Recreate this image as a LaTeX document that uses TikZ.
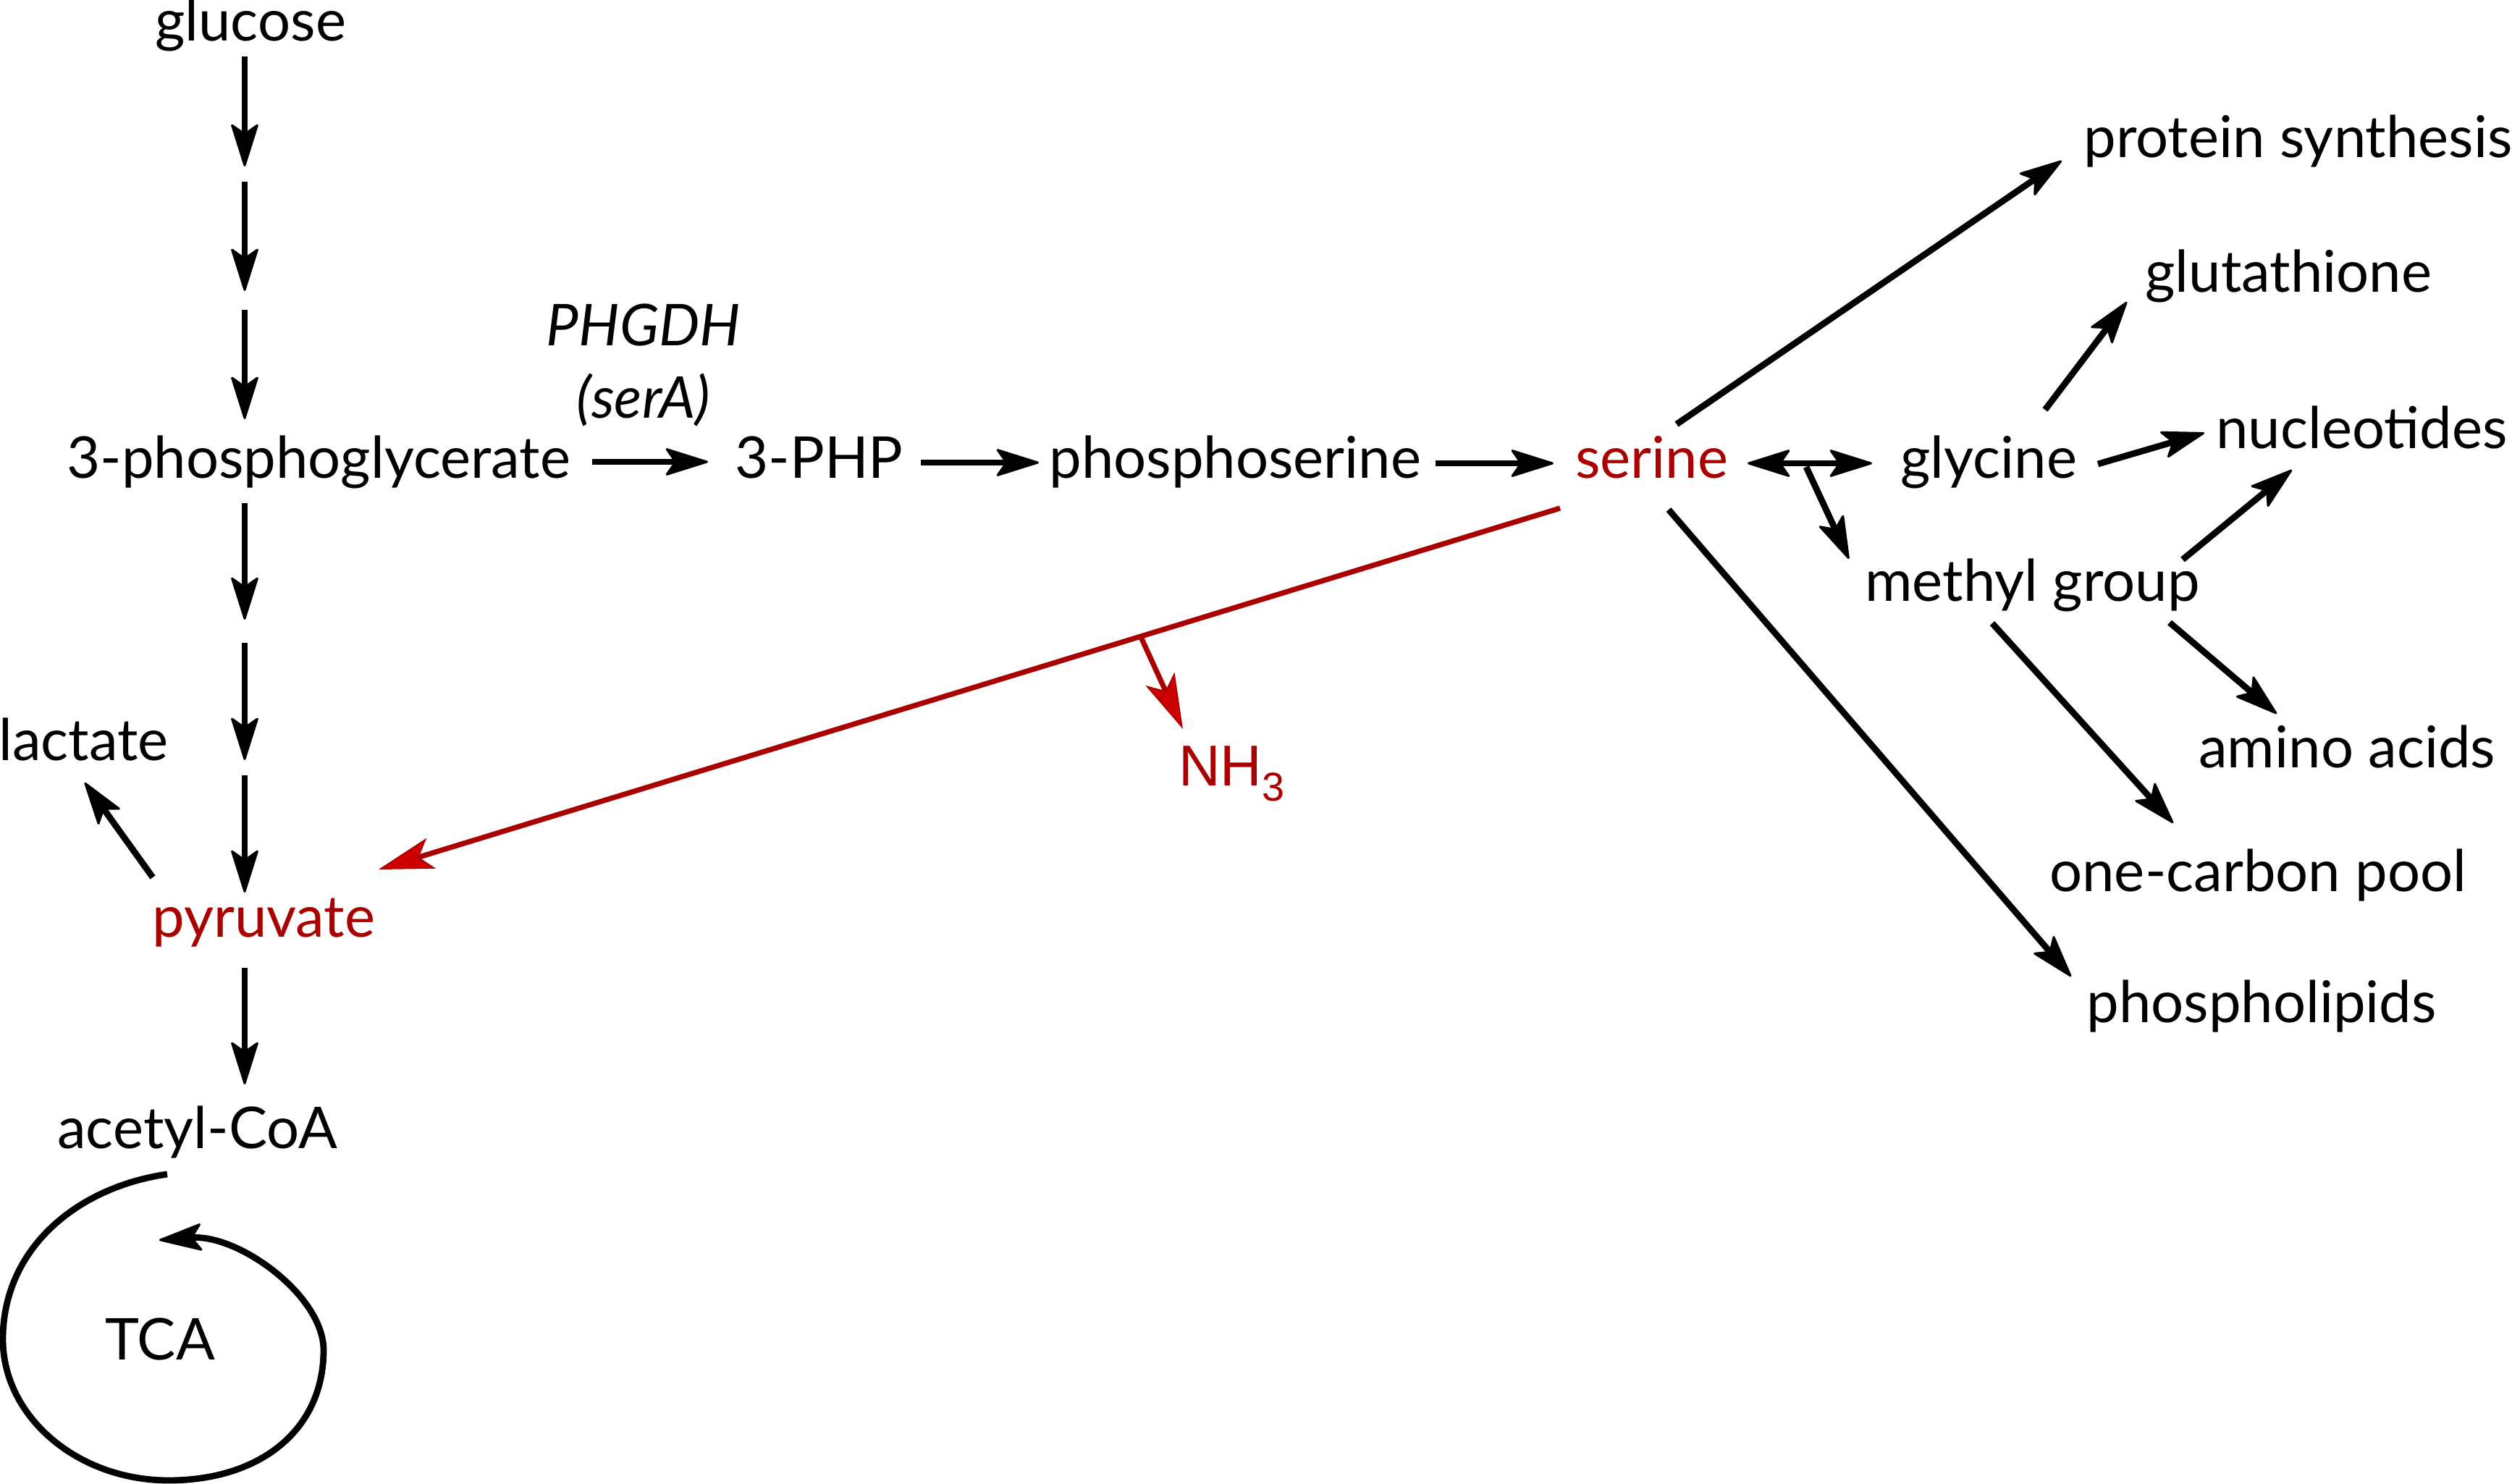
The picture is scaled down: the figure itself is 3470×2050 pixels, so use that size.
\documentclass[tikz,border=0pt]{standalone}
\usepackage{fontspec}
\setmainfont{Lato}
\newfontfamily\nhfont{Liberation Sans}
\usetikzlibrary{arrows.meta}
\definecolor{rtext}{HTML}{AA0000}
\definecolor{rfill}{HTML}{CC0000}
\begin{document}
\begin{tikzpicture}[x=0.5pt,y=-0.5pt,
  lbl/.style={anchor=base west, inner sep=0pt, font=\fontsize{39.8}{48}\selectfont},
  rlbl/.style={lbl, text=rtext},
  tip/.tip={Stealth[length=32pt,width=20pt,inset=7pt,line width=1.5pt,round]},
  arr/.style={line width=4.4pt, -tip},
  rarr/.style={draw=rtext, line width=3.6pt, -{Stealth[length=38pt,width=22pt,inset=9pt,line width=0.8pt,color=rtext,fill=rfill]}},
]
\useasboundingbox (0,0) rectangle (3470,2050);

% text nodes
\node[lbl] (glucose) at (214,57) {glucose};
\node[lbl] (pg) at (92,660) {3-phosphoglycerate};
\node[lbl, anchor=base] (phgdh) at (889,477) {\itshape PHGDH};
\node[lbl, anchor=base] (sera) at (889,577) {\itshape (serA)};
\node[lbl] (php) at (1015,660) {3-PHP};
\node[lbl] (pser) at (1449,660) {phosphoserine};
\node[rlbl] (serine) at (2176,660) {serine};
\node[lbl] (glycine) at (2625,660) {glycine};
\node[lbl] (protein) at (2878,217) {protein synthesis};
\node[lbl] (gsh) at (2963,403) {glutathione};
\node[lbl] (nuc) at (3061,619) {nucleotides};
\node[lbl] (methyl) at (2576,830) {methyl group};
\node[lbl] (amino) at (3037,1060) {amino acids};
\node[lbl] (onec) at (2831,1231) {one-carbon pool};
\node[lbl] (plip) at (2882,1412) {phospholipids};
\node[lbl] (lactate) at (-2,1050) {lactate};
\node[rlbl] (pyr) at (210,1294) {pyruvate};
\node[lbl] (acoa) at (79,1586) {acetyl-CoA};
\node[lbl] (tca) at (145,1878) {TCA};
\node[lbl, text=rtext, font=\nhfont\fontsize{39.8}{48}\selectfont] (nh3) at (1628,1085) {NH\textsubscript{3}};

% glucose -> 3PG (three steps)
\coordinate (g0) at (338,78);  \coordinate (g1) at (338,230);
\coordinate (g2) at (338,251); \coordinate (g3) at (338,402);
\coordinate (g4) at (338,428); \coordinate (g5) at (338,579);
\draw[arr] (g0) -- (g1);
\draw[arr] (g2) -- (g3);
\draw[arr] (g4) -- (g5);

% 3PG -> pyruvate (three steps)
\coordinate (p0) at (338,695);  \coordinate (p1) at (338,856);
\coordinate (p2) at (338,888);  \coordinate (p3) at (338,1050);
\coordinate (p4) at (338,1071); \coordinate (p5) at (338,1233);
\draw[arr] (p0) -- (p1);
\draw[arr] (p2) -- (p3);
\draw[arr] (p4) -- (p5);

% pyruvate -> acetyl-CoA
\coordinate (a0) at (338,1337); \coordinate (a1) at (338,1498);
\draw[arr] (a0) -- (a1);

% pyruvate -> lactate
\coordinate (l0) at (211,1212); \coordinate (l1) at (117,1081);
\draw[arr] (l0) -- (l1);

% main row
\coordinate (h0) at (818,638);  \coordinate (h1) at (978,638);
\coordinate (h2) at (1272,639); \coordinate (h3) at (1435,639);
\coordinate (h4) at (1983,640); \coordinate (h5) at (2146,640);
\draw[arr] (h0) -- (h1);
\draw[arr] (h2) -- (h3);
\draw[arr] (h4) -- (h5);

% serine <-> glycine, with branch to methyl group
\coordinate (d0) at (2414,640); \coordinate (d1) at (2586,640);
\draw[line width=4.4pt, tip-tip] (d0) -- (d1);
\coordinate (b0) at (2495,645); \coordinate (b1) at (2554,772);
\draw[arr] (b0) -- (b1);

% serine outputs
\coordinate (s0) at (2316,586); \coordinate (s1) at (2848,222);
\draw[arr] (s0) -- (s1);
\coordinate (s2) at (2305,704); \coordinate (s3) at (2861,1349);
\draw[arr] (s2) -- (s3);

% glycine outputs
\coordinate (y0) at (2825,566); \coordinate (y1) at (2938,417);
\draw[arr] (y0) -- (y1);
\coordinate (y2) at (2898,641); \coordinate (y3) at (3045,598);
\draw[arr] (y2) -- (y3);

% methyl group outputs
\coordinate (m0) at (3015,773); \coordinate (m1) at (3166,649);
\draw[arr] (m0) -- (m1);
\coordinate (m2) at (2997,860); \coordinate (m3) at (3145,986);
\draw[arr] (m2) -- (m3);
\coordinate (m4) at (2752,861); \coordinate (m5) at (3002,1137);
\draw[arr] (m4) -- (m5);

% serine -> pyruvate (red) with NH3 release
\coordinate (r0) at (2155,702); \coordinate (r1) at (523,1201);
\draw[rarr] (r0) -- (r1);
\coordinate (n0) at (1576,880); \coordinate (n1) at (1634,1007);
\draw[rarr] (n0) -- (n1);

% TCA cycle
\coordinate (t0) at (231,1622);
\coordinate (t1) at (4,1850);
\coordinate (t2) at (233,2045);
\coordinate (t3) at (447,1865);
\coordinate (t4) at (220,1713);
\draw[line width=4.4pt, -tip]
  (t0) .. controls (106,1640) and (4,1725) .. (t1)
       .. controls (4,1957) and (107,2045) .. (t2)
       .. controls (360,2045) and (447,1975) .. (t3)
       .. controls (447,1790) and (330,1705) .. (t4);
\end{tikzpicture}
\end{document}
